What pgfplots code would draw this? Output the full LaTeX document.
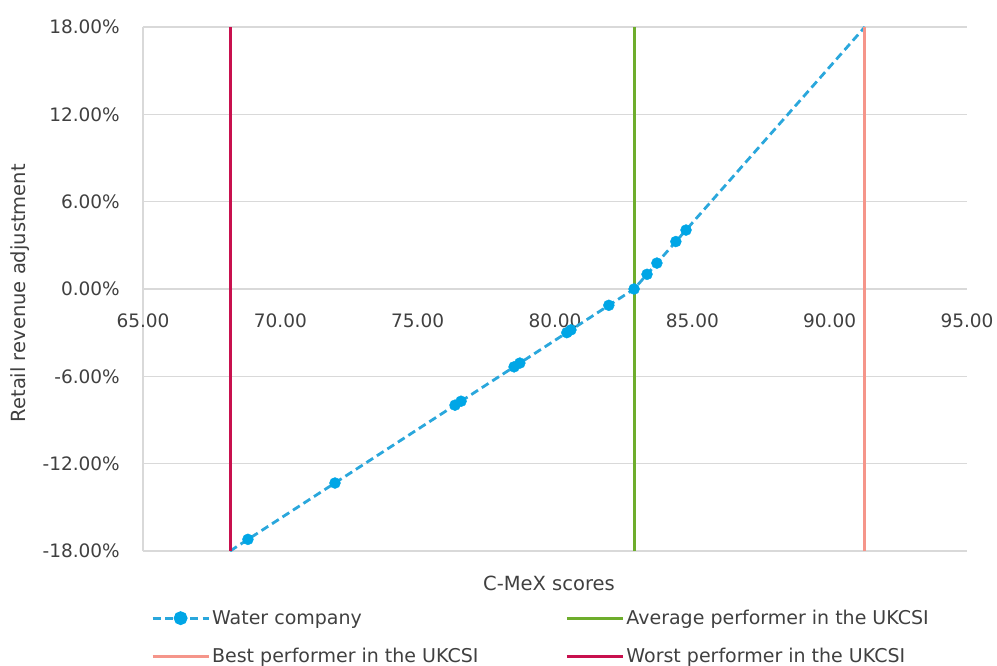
\documentclass[border=0pt]{standalone}
\usepackage{pgfplots}
\pgfplotsset{compat=1.18}
\usepackage{fontspec}
\setmainfont{DejaVu Sans}
\definecolor{cblue}{HTML}{00A6E6}
\definecolor{cline}{HTML}{2AA7DC}
\definecolor{cgreen}{HTML}{6EAD2C}
\definecolor{csalmon}{HTML}{F5958A}
\definecolor{cred}{HTML}{C8104E}
\definecolor{cgrid}{HTML}{D9D9D9}
\definecolor{ctext}{HTML}{404040}
\newcommand\tickfont{\fontsize{18.5bp}{22bp}\selectfont}
\newcommand\labfont{\fontsize{19.5bp}{23bp}\selectfont}
\newcommand\legfont{\fontsize{19bp}{23bp}\selectfont}
\begin{document}
\begin{tikzpicture}
\begin{axis}[
  scale only axis, width=824bp, height=524bp,
  xmin=65, xmax=95, ymin=-18, ymax=18,
  axis x line*=bottom, axis y line*=left,
  x axis line style={draw=none},
  y axis line style={draw=cgrid, line width=1.3bp, -},
  xtick={65,70,75,80,85,90,95},
  xticklabels={65.00,70.00,75.00,80.00,85.00,90.00,95.00},
  ytick={-18,-12,-6,0,6,12,18},
  yticklabels={-18.00\%,-12.00\%,-6.00\%,0.00\%,6.00\%,12.00\%,18.00\%},
  major tick length=0pt,
  ymajorgrids, major grid style={draw=cgrid, line width=1.3bp},
  xticklabel style={anchor=center, yshift=230bp, font=\tickfont, text=ctext},
  yticklabel style={anchor=east, inner sep=0pt, xshift=-23bp, font=\tickfont, text=ctext},
  xlabel={C-MeX scores},
  xlabel style={at={(axis description cs:0.4927,-0.0611)}, anchor=center, inner sep=0pt, font=\labfont, text=ctext},
  ylabel={Retail revenue adjustment},
  ylabel style={at={(axis description cs:-0.1493,0.492)}, anchor=center, inner sep=0pt, font=\labfont, text=ctext},
  legend columns=2,
  legend style={at={(axis description cs:0.006,-0.105)}, anchor=north west, draw=none, fill=none,
    font=\legfont, text=ctext, row sep=18bp,
    /tikz/every even column/.append style={column sep=85bp}},
  legend cell align=left,
  legend image code/.code={\draw[mark repeat=2,mark phase=2,#1] plot coordinates {(0bp,0bp) (28bp,0bp) (56bp,0bp)};},
]
\coordinate (bl) at (rel axis cs:0,0);
\coordinate (tr) at (rel axis cs:1,1);
% water company line
\addplot[cline, line width=2.8bp, dash pattern=on 8bp off 4.5bp, forget plot]
  coordinates {(68.17,-18) (82.88,0) (91.28,18)};
% water company points
\addplot[only marks, mark=*, mark size=5.5bp, cblue, forget plot]
  coordinates {
   (68.82,-17.20) (71.99,-13.33) (76.36,-7.98) (76.58,-7.71)
   (78.51,-5.35) (78.72,-5.09) (80.43,-3.00) (80.58,-2.81)
   (81.96,-1.12) (82.88,0.00) (83.35,1.01) (83.71,1.78)
   (84.40,3.26) (84.77,4.05)};
% vertical performer lines
\addplot[cgreen, line width=3bp, forget plot] coordinates {(82.88,-18) (82.88,18)};
\addplot[csalmon, line width=3bp, forget plot] coordinates {(91.28,-18) (91.28,18)};
\addplot[cred, line width=3bp, forget plot] coordinates {(68.17,-18) (68.17,18)};
\addlegendimage{cline, line width=2.8bp, dash pattern=on 8bp off 4.5bp, mark=*, mark size=5.5bp, mark options={solid, fill=cblue, draw=cblue}}
\addlegendentry{Water company}
\addlegendimage{cgreen, line width=3bp}
\addlegendentry{Average performer in the UKCSI}
\addlegendimage{csalmon, line width=3bp}
\addlegendentry{Best performer in the UKCSI}
\addlegendimage{cred, line width=3bp}
\addlegendentry{Worst performer in the UKCSI}
\end{axis}
\pgfresetboundingbox
\path[use as bounding box] ([xshift=-143bp,yshift=-115bp]bl) rectangle ([xshift=30bp,yshift=27bp]tr);
\end{tikzpicture}
\end{document}
